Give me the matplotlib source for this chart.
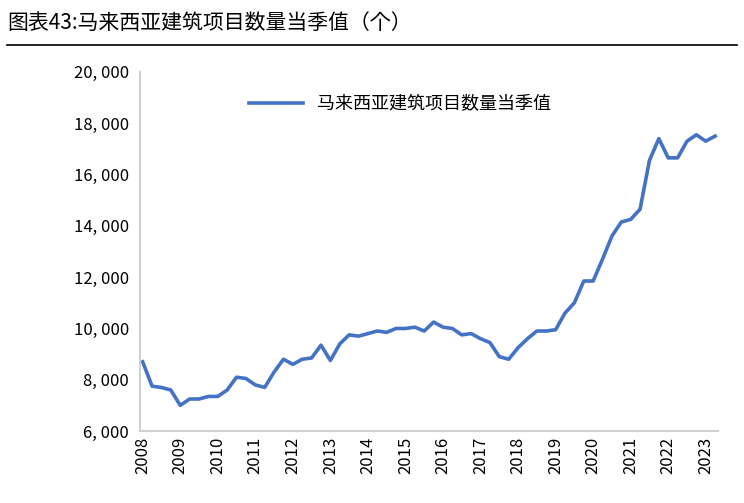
import matplotlib.pyplot as plt
from matplotlib import font_manager
from matplotlib.ticker import FuncFormatter

cjk = [f.name for f in font_manager.fontManager.ttflist if 'CJK' in f.name]
cjk_name = 'Noto Sans CJK SC' if 'Noto Sans CJK SC' in cjk else (cjk[0] if cjk else 'DejaVu Sans')
plt.rcParams['font.family'] = 'sans-serif'
plt.rcParams['font.sans-serif'] = [cjk_name, 'DejaVu Sans']

years = list(range(2008, 2024))
values = [8700, 7750, 7700, 7600, 7000, 7250, 7250, 7350,
          7350, 7600, 8100, 8050, 7800, 7700, 8300, 8800,
          8600, 8800, 8850, 9350, 8750, 9400, 9750, 9700,
          9800, 9900, 9850, 10000, 10000, 10050, 9900, 10250,
          10050, 10000, 9750, 9800, 9600, 9450, 8900, 8800,
          9250, 9600, 9900, 9900, 9950, 10600, 11000, 11850,
          11850, 12700, 13600, 14150, 14250, 14650, 16550, 17400,
          16650, 16650, 17300, 17550, 17300, 17500]
series_name = '马来西亚建筑项目数量当季值'
title = '图表43:马来西亚建筑项目数量当季值（个）'

fig = plt.figure(figsize=(7.44, 5.03), dpi=100)
ax = fig.add_axes([0.188, 0.143, 0.777, 0.714])

x = list(range(len(values)))
ax.plot(x, values, color='#4472C4', lw=2.6, label=series_name)

ax.set_ylim(6000, 20000)
ax.set_yticks(range(6000, 20001, 2000))
ax.yaxis.set_major_formatter(FuncFormatter(lambda v, p: f'{int(v):,}'.replace(',', ', ')))
ax.set_xlim(-0.3, len(values) - 0.7)
ax.set_xticks([i * 4 for i in range(len(years))])
ax.set_xticklabels([str(y) for y in years], rotation=90, fontsize=12)
ax.tick_params(axis='y', labelsize=12, length=0, pad=8)
ax.tick_params(axis='x', length=0, pad=4)

for s in ['top', 'right']:
    ax.spines[s].set_visible(False)
ax.spines['left'].set_color('#d0d0d0')
ax.spines['bottom'].set_color('#d0d0d0')
ax.spines['left'].set_linewidth(1.5)
ax.spines['bottom'].set_linewidth(1.5)

ax.legend(loc='upper center', bbox_to_anchor=(0.45, 0.98), frameon=False, fontsize=13, handlelength=3)

fig.text(0.01, 0.955, title, fontsize=15, ha='left', va='center')
fig.add_artist(plt.Line2D([0.01, 0.99], [0.91, 0.91], color='black', lw=1.2))

fig.savefig('out.png')
